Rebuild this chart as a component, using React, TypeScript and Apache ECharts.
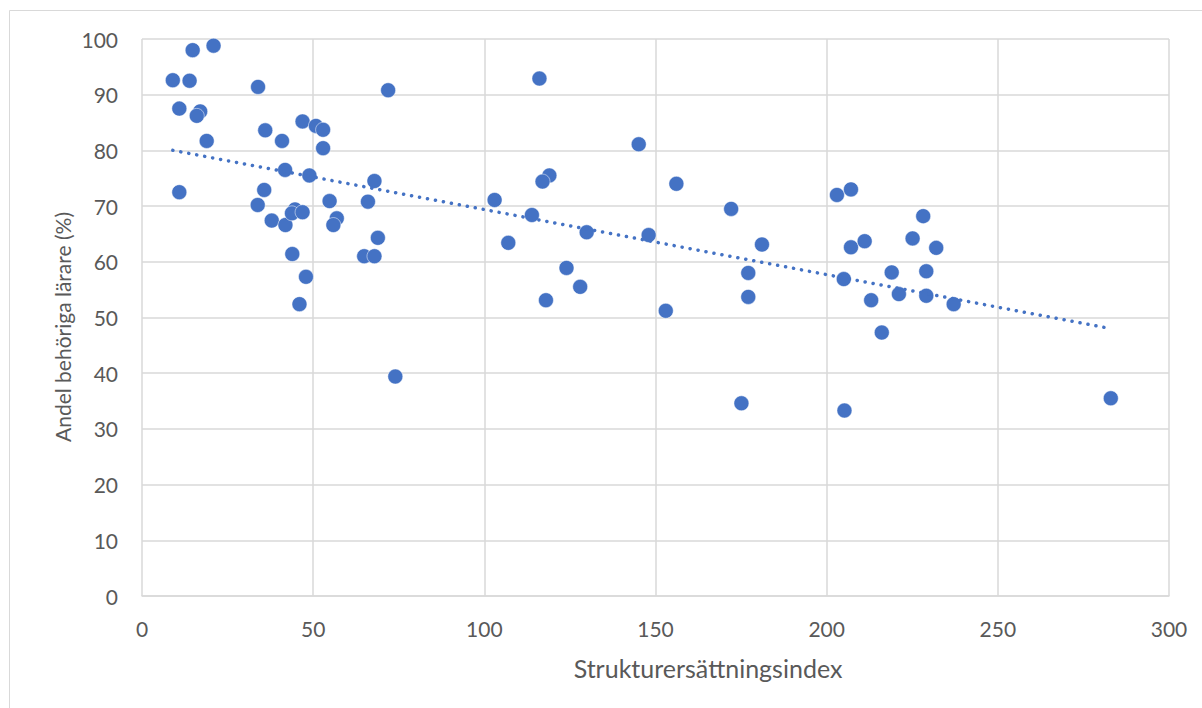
import React, { useEffect, useRef } from "react";
import * as echarts from "echarts";

const xValues: number[] = [
  9, 14.8, 20.9, 13.9, 10.9, 17.0, 16.0, 18.9, 10.9, 33.9,
  36.0, 40.9, 46.9, 50.8, 52.9, 52.9, 41.8, 48.9, 35.7, 33.8,
  37.9, 41.9, 44.7, 43.8, 46.9, 54.8, 56.9, 55.9, 66.0, 68.9,
  64.9, 67.9, 43.9, 47.9, 46.0, 74.0, 67.9, 71.9, 116.1, 145.1,
  119.0, 117.0, 156.1, 103.0, 172.1, 113.9, 129.9, 148.0, 107.0, 181.1,
  124.0, 128.0, 118.0, 153.0, 177.1, 177.1, 175.1, 203.0, 207.1, 228.2,
  225.1, 232.0, 207.1, 211.1, 219.0, 229.1, 205.0, 213.0, 221.1, 229.1,
  237.1, 216.1, 205.2, 283.0,
];
const yValues: number[] = [
  92.6, 98.0, 98.8, 92.5, 87.5, 87.0, 86.2, 81.7, 72.5, 91.4,
  83.6, 81.7, 85.2, 84.4, 83.7, 80.4, 76.5, 75.5, 72.9, 70.2,
  67.4, 66.6, 69.4, 68.7, 68.9, 70.9, 67.8, 66.6, 70.8, 64.3,
  61.0, 61.0, 61.4, 57.3, 52.4, 39.4, 74.5, 90.8, 92.9, 81.1,
  75.5, 74.4, 74.0, 71.1, 69.5, 68.4, 65.3, 64.8, 63.4, 63.1,
  58.9, 55.5, 53.1, 51.2, 58.0, 53.7, 34.6, 72.0, 73.0, 68.2,
  64.2, 62.5, 62.6, 63.7, 58.1, 58.3, 56.9, 53.1, 54.2, 53.9,
  52.4, 47.3, 33.3, 35.5,
];

const xAxisTitle = "Strukturersättningsindex";
const yAxisTitle = "Andel behöriga lärare (%)";

function linearFit(xs: number[], ys: number[]) {
  const n = xs.length;
  const mx = xs.reduce((a, b) => a + b, 0) / n;
  const my = ys.reduce((a, b) => a + b, 0) / n;
  let sxy = 0;
  let sxx = 0;
  for (let i = 0; i < n; i++) {
    sxy += (xs[i] - mx) * (ys[i] - my);
    sxx += (xs[i] - mx) * (xs[i] - mx);
  }
  const slope = sxy / sxx;
  return { slope, intercept: my - slope * mx };
}

export default function App() {
  const ref = useRef<HTMLDivElement>(null);
  useEffect(() => {
    if (!ref.current) return;
    const chart = echarts.init(ref.current, undefined, { renderer: "svg" });
    const points = xValues.map((x, i) => [x, yValues[i]]);
    const fit = linearFit(xValues, yValues);
    const xMin = Math.min(...xValues);
    const xMax = Math.max(...xValues);
    const trend = [
      [xMin, fit.intercept + fit.slope * xMin],
      [xMax, fit.intercept + fit.slope * xMax],
    ];
    const font = "Lato, 'Open Sans', sans-serif";
    chart.setOption({
      animation: false,
      backgroundColor: "#ffffff",
      textStyle: { fontFamily: font },
      graphic: [
        {
          type: "rect",
          shape: { x: 9.5, y: 10.5, width: 1300, height: 800 },
          style: { fill: "none", stroke: "#d9d9d9", lineWidth: 1 },
          silent: true,
        },
        {
          type: "text",
          x: 708,
          y: 668,
          silent: true,
          style: {
            text: xAxisTitle,
            fill: "#595959",
            fontSize: 25,
            fontFamily: font,
            align: "center",
            verticalAlign: "middle",
          },
        },
        {
          type: "text",
          x: 62,
          y: 327,
          rotation: Math.PI / 2,
          silent: true,
          style: {
            text: yAxisTitle,
            fill: "#595959",
            fontSize: 21,
            fontFamily: font,
            align: "center",
            verticalAlign: "middle",
          },
        },
      ],
      grid: { left: 142, top: 39, right: 33, bottom: 112, containLabel: false },
      xAxis: {
        type: "value",
        min: 0,
        max: 300,
        interval: 50,
        axisLine: { show: true, lineStyle: { color: "#d9d9d9", width: 1.5 } },
        axisTick: { show: false },
        axisLabel: { color: "#595959", fontSize: 21, margin: 22, fontFamily: font },
        splitLine: { show: true, lineStyle: { color: "#d9d9d9", width: 1.5 } },
      },
      yAxis: {
        type: "value",
        min: 0,
        max: 100,
        interval: 10,
        axisLine: { show: false },
        axisTick: { show: false },
        axisLabel: { color: "#595959", fontSize: 21, margin: 24, fontFamily: font },
        splitLine: { show: true, lineStyle: { color: "#d9d9d9", width: 1.5 } },
      },
      series: [
        {
          type: "line",
          data: trend,
          showSymbol: false,
          symbol: "none",
          silent: true,
          lineStyle: { color: "#4472C4", width: 3.5, type: [0.1, 8], cap: "round" },
          z: 3,
        },
        {
          type: "scatter",
          data: points,
          symbol: "circle",
          symbolSize: 15,
          itemStyle: { color: "#4472C4", opacity: 1, borderColor: "#ffffff", borderWidth: 0.5 },
          z: 2,
        },
      ],
    });
    return () => chart.dispose();
  }, []);
  return (
    <div
      ref={ref}
      style={{ position: "fixed", left: 0, top: 0, width: 1202, height: 708 }}
    />
  );
}
